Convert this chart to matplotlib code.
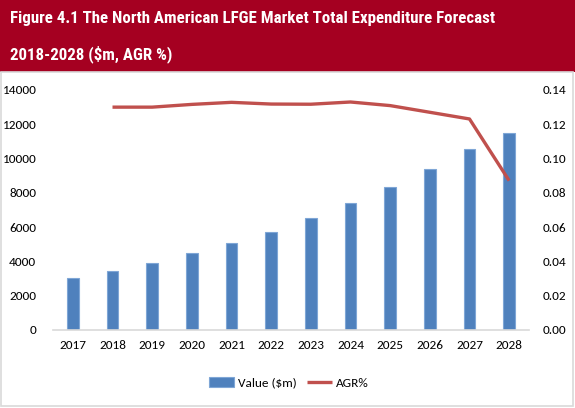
import matplotlib
matplotlib.use("Agg")
import matplotlib.pyplot as plt
from matplotlib import font_manager
from matplotlib.patches import Rectangle

years = ["2017", "2018", "2019", "2020", "2021", "2022", "2023", "2024", "2025", "2026", "2027", "2028"]
values = [3050, 3460, 3930, 4470, 5055, 5735, 6510, 7390, 8360, 9410, 10580, 11510]
agr_years = years[1:]
agr = [0.130, 0.130, 0.1316, 0.1328, 0.1318, 0.1317, 0.1330, 0.1309, 0.1270, 0.1231, 0.0871]
left_ticks = [0, 2000, 4000, 6000, 8000, 10000, 12000, 14000]
right_ticks = [0.00, 0.02, 0.04, 0.06, 0.08, 0.10, 0.12, 0.14]
title_lines = ["Figure 4.1 The North American LFGE Market Total Expenditure Forecast",
               "2018-2028 ($m, AGR %)"]

names = {f.name for f in font_manager.fontManager.ttflist}
tick_font = [f for f in ["Carlito", "Lato", "DejaVu Sans"] if f in names]
title_font = [f for f in ["Liberation Sans Narrow", "Roboto Condensed", "Liberation Sans", "DejaVu Sans"] if f in names]

fig = plt.figure(figsize=(5.75, 4.08), dpi=100)
W, H = 575, 408
# title band
fig.patches.append(Rectangle((0, 1 - 72 / H), 1, 72 / H, transform=fig.transFigure,
                             facecolor="#A50021", edgecolor="none", zorder=0))
# light frame
fig.patches.append(Rectangle((0.5 / W, 2 / H), 1 - 3 / W, 1 - 74 / H, transform=fig.transFigure,
                             facecolor="none", edgecolor="#D9D9D9", lw=1.2, zorder=0))
t1 = fig.text(10 / W, 1 - 18 / H, title_lines[0], color="white", fontsize=14.5, fontweight="bold",
              family=title_font, va="center", ha="left")
t2 = fig.text(10 / W, 1 - 54 / H, title_lines[1], color="white", fontsize=14.5, fontweight="bold",
              family=title_font, va="center", ha="left")
# fit the first title line to the reference width (~484 px)
renderer = fig.canvas.get_renderer()
w1 = t1.get_window_extent(renderer).width
scale = 484.0 / w1
t1.set_fontsize(14.5 * scale)
t2.set_fontsize(14.5 * scale)

ax = fig.add_axes([53 / W, 1 - 330 / H, (529 - 53) / W, (330 - 90) / H])
x = list(range(len(years)))
ax.bar(x, values, width=0.29, color="#4F81BD", edgecolor="#7FA6D6", linewidth=0.8,
       label="Value ($m)", zorder=2)
ax.set_xlim(-0.5, len(years) - 0.5)
ax.set_ylim(0, 14000)
ax.set_yticks(left_ticks)
ax.set_yticklabels([str(t) for t in left_ticks])
ax.set_xticks(x)
ax.set_xticklabels(years)
for s in ["top", "right", "left"]:
    ax.spines[s].set_visible(False)
ax.spines["bottom"].set_color("#D9D9D9")
ax.spines["bottom"].set_linewidth(1.2)
ax.tick_params(axis="both", length=0, labelsize=9.5, colors="black")
ax.tick_params(axis="y", pad=12)
ax.tick_params(axis="x", pad=7)
for lab in ax.get_xticklabels() + ax.get_yticklabels():
    lab.set_family(tick_font)

ax2 = ax.twinx()
ax2.plot([years.index(y) for y in agr_years], agr, color="#C0504D", lw=2.4, label="AGR%",
         solid_capstyle="butt", zorder=3)
ax2.set_ylim(0, 0.14)
ax2.set_yticks(right_ticks)
ax2.set_yticklabels([f"{t:.2f}" for t in right_ticks])
for s in ["top", "right", "left", "bottom"]:
    ax2.spines[s].set_visible(False)
ax2.tick_params(axis="y", length=0, labelsize=9.5, pad=10)
for lab in ax2.get_yticklabels():
    lab.set_family(tick_font)

h1, l1 = ax.get_legend_handles_labels()
h2, l2 = ax2.get_legend_handles_labels()
fig.legend(h1 + h2, l1 + l2, loc="center", bbox_to_anchor=(289 / W, 1 - 383 / H),
           ncol=2, frameon=False, prop={"family": tick_font, "size": 9.5},
           handlelength=1.9, handletextpad=0.3, columnspacing=0.8)

fig.savefig("out.png", dpi=100)
